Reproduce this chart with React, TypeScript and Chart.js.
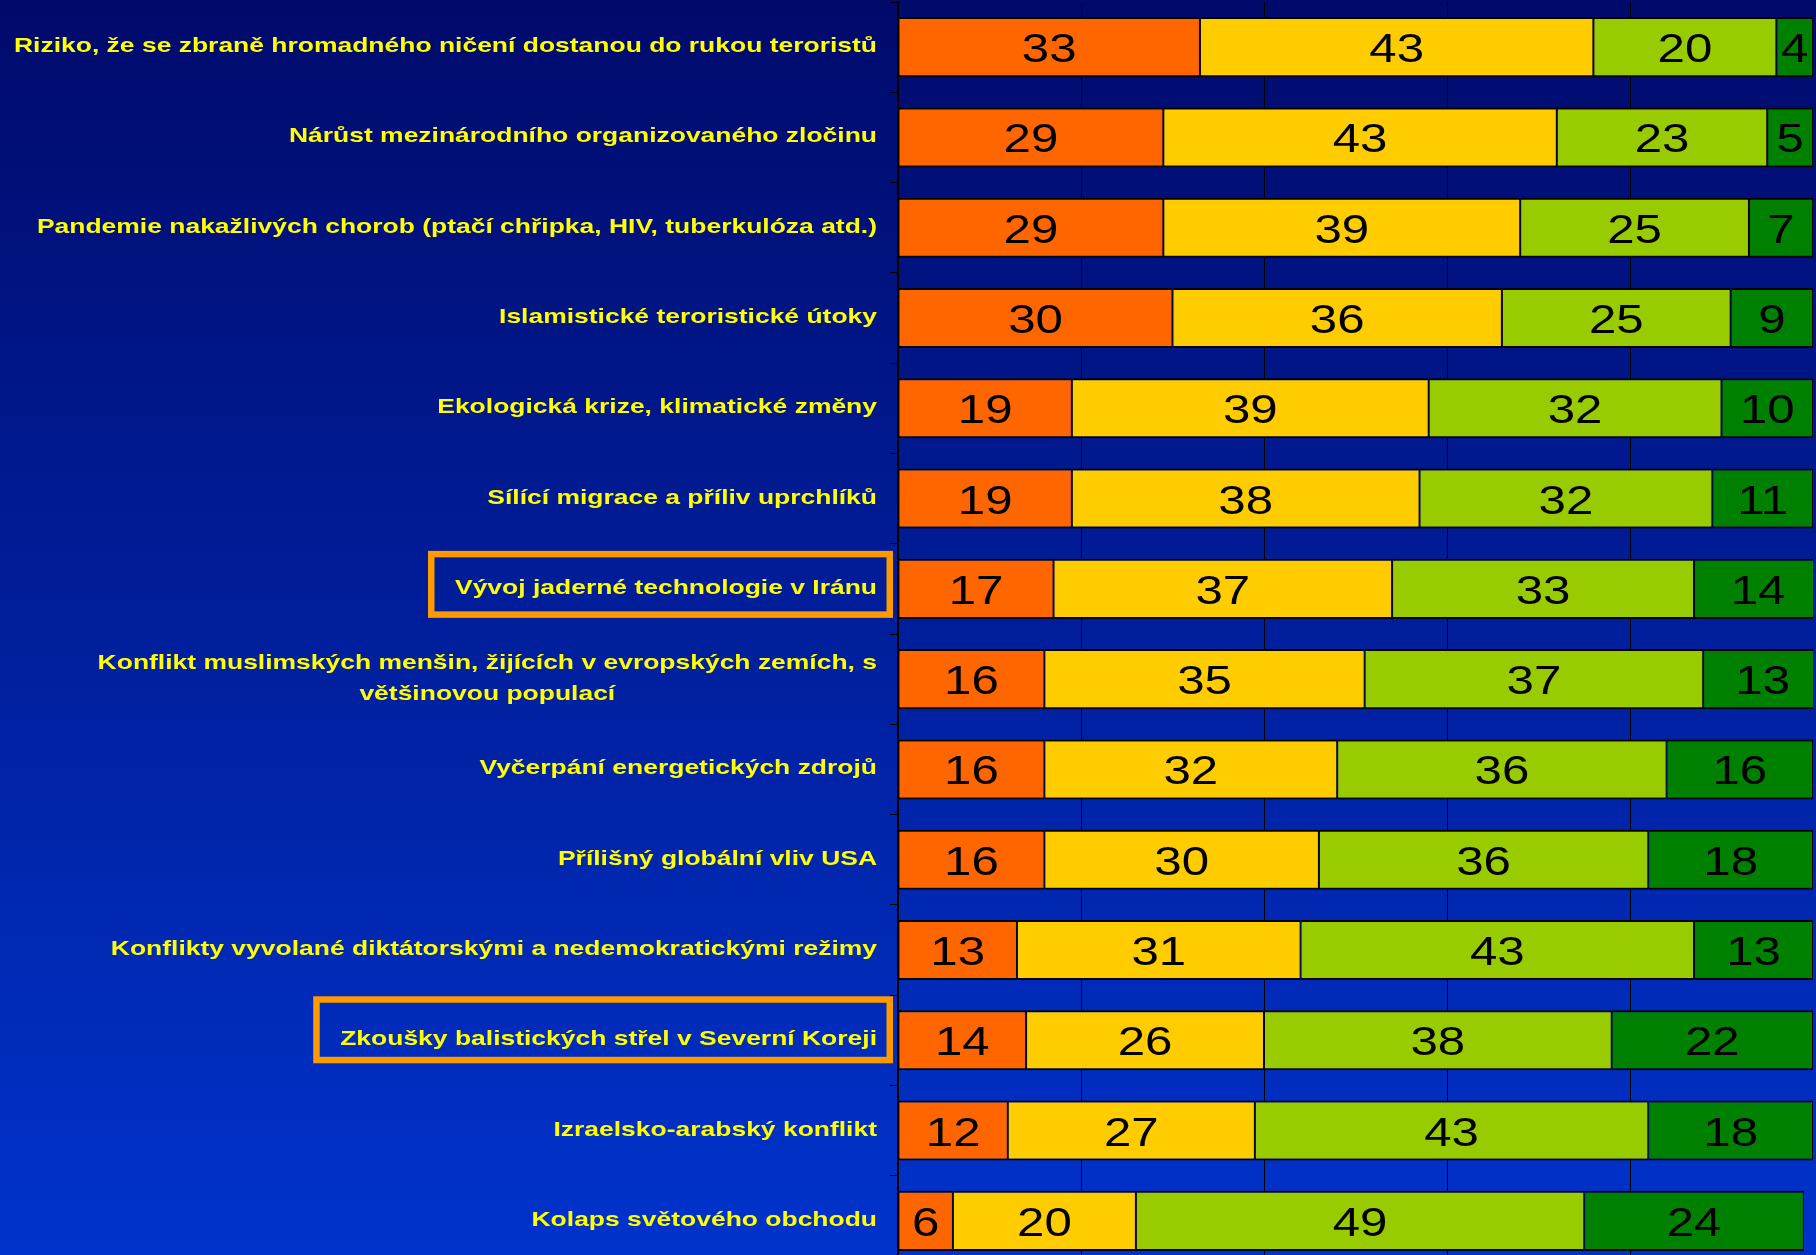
import React, { useEffect, useRef } from 'react';
import { Chart, registerables } from 'chart.js';

Chart.register(...registerables);

// ---------- data ----------
const categories: (string | string[])[] = [
  'Riziko, že se zbraně hromadného ničení dostanou do rukou teroristů',
  'Nárůst mezinárodního organizovaného zločinu',
  'Pandemie nakažlivých chorob (ptačí chřipka, HIV, tuberkulóza atd.)',
  'Islamistické teroristické útoky',
  'Ekologická krize, klimatické změny',
  'Sílící migrace a příliv uprchlíků',
  'Vývoj jaderné technologie v Iránu',
  ['Konflikt muslimských menšin, žijících v evropských zemích, s', 'většinovou populací'],
  'Vyčerpání energetických zdrojů',
  'Přílišný globální vliv USA',
  'Konflikty vyvolané diktátorskými a nedemokratickými režimy',
  'Zkoušky balistických střel v Severní Koreji',
  'Izraelsko-arabský konflikt',
  'Kolaps světového obchodu',
];

const seriesA = [33, 29, 29, 30, 19, 19, 17, 16, 16, 16, 13, 14, 12, 6];
const seriesB = [43, 43, 39, 36, 39, 38, 37, 35, 32, 30, 31, 26, 27, 20];
const seriesC = [20, 23, 25, 25, 32, 32, 33, 37, 36, 36, 43, 38, 43, 49];
const seriesD = [4, 5, 7, 9, 10, 11, 14, 13, 16, 18, 13, 22, 18, 24];

const xTicks = [0, 20, 40, 60, 80, 100];

// categories that are highlighted with an orange frame
const highlighted = [6, 11];

// ---------- styling ----------
const COLORS = ['#FF6600', '#FFCC00', '#99CC00', '#008000'];
const SX_LABEL = 1.26; // horizontal stretch of the original slide text
const SX_VALUE = 1.2;

function drawStretched(
  ctx: CanvasRenderingContext2D,
  text: string,
  x: number,
  y: number,
  align: CanvasTextAlign,
  sx: number
) {
  ctx.save();
  ctx.translate(x, y);
  ctx.scale(sx, 1);
  ctx.textAlign = align;
  ctx.fillText(text, 0, 0);
  ctx.restore();
}

const backgroundPlugin = {
  id: 'bgGradient',
  beforeDraw(chart: any) {
    const { ctx, width, height } = chart;
    const g = ctx.createLinearGradient(0, 0, 0, 1255);
    g.addColorStop(0, '#000A6B');
    g.addColorStop(1, '#0033CC');
    ctx.save();
    ctx.fillStyle = g;
    ctx.fillRect(0, 0, width, height);
    ctx.restore();
  },
};

const labelsPlugin = {
  id: 'customLabels',
  afterDatasetsDraw(chart: any) {
    const ctx: CanvasRenderingContext2D = chart.ctx;
    const yScale = chart.scales.y;
    const area = chart.chartArea;
    const labelRight = area.left - 21;

    // value labels inside bars
    ctx.save();
    ctx.font = '41px "Liberation Sans", Arial, sans-serif';
    ctx.fillStyle = '#000000';
    ctx.textBaseline = 'alphabetic';
    chart.data.datasets.forEach((ds: any, di: number) => {
      const meta = chart.getDatasetMeta(di);
      meta.data.forEach((bar: any, i: number) => {
        const v = ds.data[i];
        const cx = (bar.x + bar.base) / 2;
        drawStretched(ctx, String(v), cx, bar.y + 15, 'center', SX_VALUE);
      });
    });
    ctx.restore();

    // category labels
    ctx.save();
    ctx.font = 'bold 21px "Liberation Sans", Arial, sans-serif';
    ctx.fillStyle = '#FFFF00';
    ctx.textBaseline = 'alphabetic';
    const lh = 31;
    categories.forEach((lab, i) => {
      const yc = yScale.getPixelForTick(i);
      const lines = Array.isArray(lab) ? lab : [lab];
      const widths = lines.map((l) => ctx.measureText(l).width * SX_LABEL);
      const w = Math.max(...widths);
      if (lines.length === 1) {
        drawStretched(ctx, lines[0], labelRight, yc + 5, 'right', SX_LABEL);
      } else {
        const cx = labelRight - w / 2;
        lines.forEach((l, k) => {
          drawStretched(ctx, l, cx, yc + 5 + (k - (lines.length - 1) / 2) * lh, 'center', SX_LABEL);
        });
      }
      if (highlighted.includes(i)) {
        const lw = 6.5;
        const outerLeft = labelRight - w - 27;
        const outerRight = labelRight + 16;
        const topOff = i === 6 ? -38 : -44;
        const outerTop = yc + topOff;
        const outerBottom = outerTop + 67;
        ctx.save();
        ctx.strokeStyle = '#FF9900';
        ctx.lineWidth = lw;
        ctx.strokeRect(outerLeft + lw / 2, outerTop + lw / 2, outerRight - outerLeft - lw, outerBottom - outerTop - lw);
        ctx.restore();
      }
    });
    ctx.restore();
  },
};

export default function App() {
  const canvasRef = useRef<HTMLCanvasElement | null>(null);

  useEffect(() => {
    document.body.style.margin = '0';
    document.body.style.overflow = 'hidden';
    const canvas = canvasRef.current;
    if (!canvas) return;
    const barStyle = {
      borderColor: '#000000',
      borderWidth: { top: 2, bottom: 2, left: 1, right: 1 },
      borderSkipped: false as const,
      barPercentage: 0.665,
      categoryPercentage: 1,
    };
    const labels = categories.map((c) => (Array.isArray(c) ? c.join(' ') : c));
    const chart = new Chart(canvas, {
      type: 'bar',
      data: {
        labels,
        datasets: [
          { label: 'A', data: seriesA, backgroundColor: COLORS[0], ...barStyle },
          { label: 'B', data: seriesB, backgroundColor: COLORS[1], ...barStyle },
          { label: 'C', data: seriesC, backgroundColor: COLORS[2], ...barStyle },
          { label: 'D', data: seriesD, backgroundColor: COLORS[3], ...barStyle },
        ],
      },
      options: {
        indexAxis: 'y',
        responsive: false,
        animation: false,
        devicePixelRatio: 1,
        layout: { padding: { left: 890, right: 3, top: 2, bottom: 1 } },
        plugins: {
          legend: { display: false },
          tooltip: { enabled: false },
          title: { display: false },
        },
        scales: {
          x: {
            stacked: true,
            min: 0,
            max: 100,
            afterBuildTicks: (scale: any) => {
              scale.ticks = xTicks.map((v) => ({ value: v }));
            },
            ticks: { display: false },
            border: { display: false },
            grid: {
              drawTicks: false,
              color: (c: any) => (c.tick && c.tick.value === 100 ? 'rgba(0,0,0,0)' : '#000000'),
              lineWidth: 1,
            },
          },
          y: {
            stacked: true,
            ticks: { display: false },
            border: { display: true, color: '#000000', width: 2 },
            grid: {
              drawOnChartArea: false,
              drawTicks: true,
              tickLength: 8,
              color: '#000000',
              lineWidth: 1,
            },
          },
        },
      },
      plugins: [backgroundPlugin, labelsPlugin],
    });
    return () => chart.destroy();
  }, []);

  return (
    <div style={{ position: 'fixed', left: 0, top: 0, width: 1816, height: 1255, overflow: 'hidden' }}>
      <canvas ref={canvasRef} width={1816} height={1267} style={{ width: '1816px', height: '1267px', display: 'block' }} />
    </div>
  );
}
